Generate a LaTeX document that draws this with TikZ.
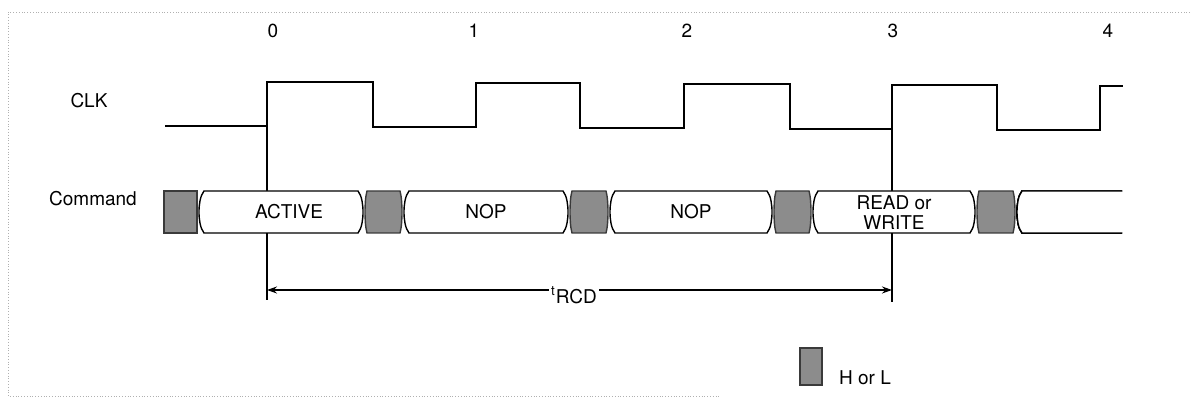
\documentclass[tikz,border=0pt]{standalone}
\usepackage{fontspec}
\setmainfont{TeX Gyre Heros}
\usepackage{tikz}
\usetikzlibrary{arrows.meta,positioning,calc}
\usepackage{xcolor}
\definecolor{dcgray}{HTML}{8C8C8C}
\definecolor{dcedge}{HTML}{3A3A3A}
\definecolor{scangray}{HTML}{B0B0B0}

\tikzset{
  wave/.style={line width=0.75pt, black},
  bus/.style={line width=0.7pt, black, fill=white},
  dc/.style={line width=0.7pt, draw=dcedge, fill=dcgray},
  marker/.style={line width=0.6pt, black},
  lbl/.style={font=\fontsize{9.5}{10}\selectfont, inner sep=1pt},
  timing/.style={line width=0.6pt, -{Stealth[length=5pt,width=3.5pt]}}
}

% one white command cell, from x=#1 to x=#2
\newcommand{\buscell}[2]{%
  \draw[bus] ({#1+5},191) -- ({#2-5},191)
    .. controls ({#2-1},196) and (#2,205) .. (#2,212)
    .. controls (#2,219) and ({#2-1},228) .. ({#2-5},233)
    -- ({#1+5},233)
    .. controls ({#1+1},228) and (#1,219) .. (#1,212)
    .. controls (#1,205) and ({#1+1},196) .. ({#1+5},191) -- cycle;}
% one shaded don't-care cell between two white cells
\newcommand{\dontcare}[2]{%
  \draw[dc] ({#1+4},191) -- ({#2-4},191)
    .. controls ({#2-2.5},196) and ({#2-2},205) .. ({#2-2},212)
    .. controls ({#2-2},219) and ({#2-2.5},228) .. ({#2-4},233)
    -- ({#1+4},233)
    .. controls ({#1+2.5},228) and ({#1+2},219) .. ({#1+2},212)
    .. controls ({#1+2},205) and ({#1+2.5},196) .. ({#1+4},191) -- cycle;}

\begin{document}
\begin{tikzpicture}[x=0.5pt, y=-0.5pt]
\useasboundingbox (0,0) rectangle (1199,400);
% faint scan frame
\draw[scangray, densely dotted, line width=0.4pt] (1190,12) -- (8,12) -- (8,396) -- (720,396);

% clock
\node[lbl] (clk) at (89,101) {CLK};
\foreach \n/\x in {0/273,1/474,2/687,3/893,4/1108}
  \node[lbl] (edge\n) at (\x,31) {\n};
\draw[wave] (165,126) -- (267,126) -- (267,82) -- (373,82) -- (373,127)
  -- (476,127) -- (476,83) -- (580,83) -- (580,128) -- (684,128) -- (684,84)
  -- (790,84) -- (790,129) -- (892,129) -- (892,85) -- (997,85) -- (997,130)
  -- (1100,130) -- (1100,86) -- (1123,86);

% reference lines at edges 0 and 3
\coordinate (m0) at (267,300);
\coordinate (m3) at (892,302);
\draw[marker] (267,126) -- (m0);
\draw[marker] (892,129) -- (m3);

% command bus
\node[lbl] (cmd) at (93,199) {Command};
\draw[dc] (164,191) rectangle (197,233);
\buscell{199}{363}
\buscell{404}{568}
\buscell{610}{772}
\buscell{813}{975}
\foreach \b/\a in {363/404,568/610,772/813,975/1017}
  \dontcare{\b}{\a}
\draw[bus] (1122,191) -- (1022,191)
  .. controls (1018,196) and (1017,205) .. (1017,212)
  .. controls (1017,219) and (1018,228) .. (1022,233) -- (1122,233);
\node[lbl] (active) at (289,212) {ACTIVE};
\node[lbl] (nopa) at (486,212) {NOP};
\node[lbl] (nopb) at (691,212) {NOP};
\node[lbl, align=center] (rw) at (894,213) {READ or\\WRITE};

% tRCD
\coordinate (a0) at (267,290);
\coordinate (a3) at (892,290);
\node[lbl] (trcd) at (574,295) {\textsuperscript{t}RCD};
\draw[timing] (trcd.west |- a0) -- (a0);
\draw[timing] (trcd.east |- a3) -- (a3);

% legend
\draw[dc] (800,348) rectangle (822,385);
\node[lbl] (hl) at (865,378) {H or L};
\end{tikzpicture}
\end{document}
